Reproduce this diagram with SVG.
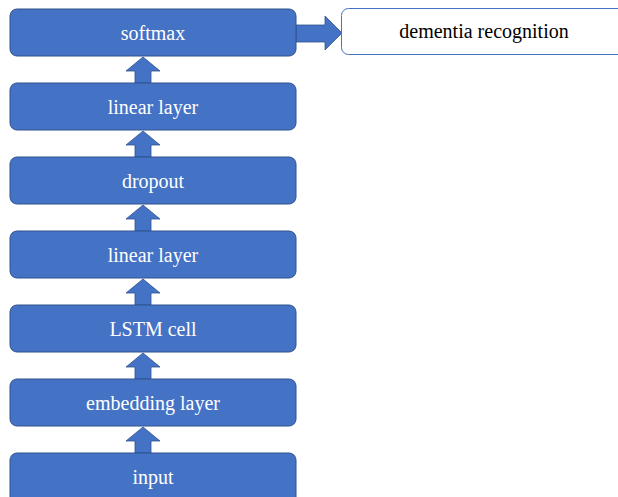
<svg xmlns="http://www.w3.org/2000/svg" width="618" height="497" viewBox="0 0 618 497">
<style>
.box{fill:#4472C4;stroke:#2F528F;stroke-width:1}
.lbl{font-family:"Liberation Serif","Times New Roman",serif;font-size:20px;fill:#ffffff;text-anchor:middle}
.out{fill:#ffffff;stroke:#4472C4;stroke-width:1}
.olbl{font-family:"Liberation Serif","Times New Roman",serif;font-size:20px;fill:#000000;text-anchor:middle}
.arr{fill:#4472C4;stroke:#2F528F;stroke-width:0.8}
</style>
<defs>
<path id="up" d="M135,83 L135,71 L126,71 L143,57 L160,71 L151,71 L151,83 Z"/>
</defs>
<rect width="618" height="497" fill="#ffffff"/>
<g id="connectors">
<use href="#up" class="arr"/>
<use href="#up" class="arr" y="74"/>
<use href="#up" class="arr" y="148"/>
<use href="#up" class="arr" y="222"/>
<use href="#up" class="arr" y="296"/>
<use href="#up" class="arr" y="370"/>
<path class="arr" d="M296,25 L325,25 L325,16 L342,33 L325,50 L325,42 L296,42 Z"/>
</g>
<g id="softmax"><rect class="box" x="10" y="9" width="286" height="47" rx="7"/><text class="lbl" x="153" y="40">softmax</text></g>
<g id="linear2"><rect class="box" x="10" y="83" width="286" height="47" rx="7"/><text class="lbl" x="153" y="114">linear layer</text></g>
<g id="dropout"><rect class="box" x="10" y="157" width="286" height="47" rx="7"/><text class="lbl" x="153" y="188">dropout</text></g>
<g id="linear1"><rect class="box" x="10" y="231" width="286" height="47" rx="7"/><text class="lbl" x="153" y="262">linear layer</text></g>
<g id="lstm"><rect class="box" x="10" y="305" width="286" height="47" rx="7"/><text class="lbl" x="153" y="336">LSTM cell</text></g>
<g id="embedding"><rect class="box" x="10" y="379" width="286" height="47" rx="7"/><text class="lbl" x="153" y="410">embedding layer</text></g>
<g id="input"><rect class="box" x="10" y="453" width="286" height="54" rx="7"/><text class="lbl" x="153" y="484">input</text></g>
<g id="dementia"><rect class="out" x="341.5" y="8.5" width="286" height="46" rx="7"/><text class="olbl" x="484" y="38">dementia recognition</text></g>
</svg>
